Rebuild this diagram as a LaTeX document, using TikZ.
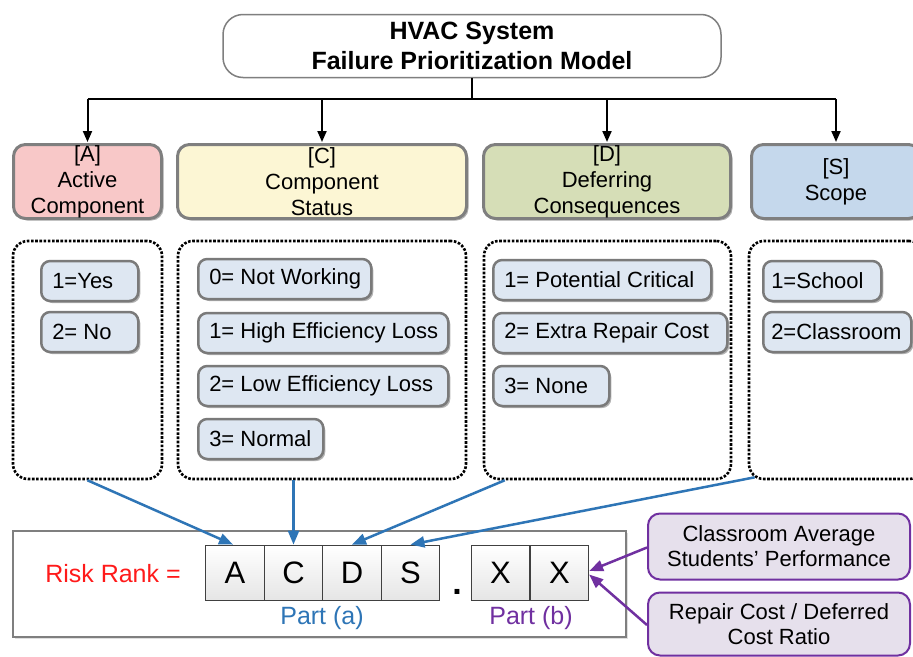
\documentclass[tikz,border=0pt]{standalone}
\usepackage{fontspec}
\setmainfont{Liberation Sans}
\usetikzlibrary{arrows.meta,shadows,calc}
\definecolor{bordgray}{HTML}{7F7F7F}
\definecolor{itemgray}{HTML}{7A7A7A}
\definecolor{itemfill}{HTML}{DEE7F2}
\definecolor{fillA}{HTML}{F8C8C8}
\definecolor{fillC}{HTML}{FCF6D4}
\definecolor{fillD}{HTML}{D6DEB7}
\definecolor{fillS}{HTML}{C5D8EC}
\definecolor{ablue}{HTML}{2E75B6}
\definecolor{apurple}{HTML}{7030A0}
\definecolor{pfill}{HTML}{E6E0EC}
\definecolor{rred}{HTML}{FF1A1A}
\newcommand\itemtext[2]{\makebox[#1][l]{#2}}
\begin{document}
\begin{tikzpicture}[x=1pt,y=-1pt,
  softshadow/.style={drop shadow={shadow xshift=2pt,shadow yshift=-2pt,opacity=0.3,fill=black}},
  titlebox/.style={draw=bordgray,line width=1.5pt,fill=white,rounded corners=20pt,
    minimum width=498pt,minimum height=63pt,align=center,inner sep=0pt,
    font=\bfseries\fontsize{25}{30}\selectfont},
  catbox/.style={draw=bordgray,line width=3pt,rounded corners=12pt,align=center,
    minimum height=74pt,inner sep=0pt,font=\fontsize{22}{26}\selectfont,softshadow},
  optbox/.style={draw=black,line width=2.6pt,dash pattern=on 2.6pt off 1.6pt,
    rounded corners=15pt,minimum height=238pt,inner sep=0pt},
  itembox/.style={draw=itemgray,line width=2.5pt,fill=itemfill,rounded corners=9pt,
    anchor=west,minimum height=40pt,inner xsep=11pt,inner ysep=0pt,
    font=\fontsize{22}{25}\selectfont,softshadow},
  cell/.style={draw=black!75,line width=0.8pt,top color=white,bottom color=black!10,
    minimum width=58.5pt,minimum height=55pt,inner sep=0pt,
    font=\fontsize{31}{31}\selectfont},
  pbox/.style={draw=apurple,line width=2pt,fill=pfill,rounded corners=12pt,
    minimum width=262pt,align=center,inner sep=0pt,font=\fontsize{22}{25}\selectfont},
  tree/.style={line width=2pt,draw=black},
  treearrow/.style={tree,-{Triangle[length=11pt,width=9pt]}},
  bluearrow/.style={line width=2.5pt,draw=ablue,-{Triangle[length=14pt,width=11pt]}},
  purplearrow/.style={line width=2.5pt,draw=apurple,-{Triangle[length=14pt,width=11pt]}}
]
\useasboundingbox (0,0) rectangle (913,656);
\clip (0,0) rectangle (913,656);
\fill[white] (0,0) rectangle (913,656);

% title
\node[titlebox] (T) at (472,46) {HVAC System\\Failure Prioritization Model};

% categories
\node[catbox,fill=fillA,minimum width=148pt] (cA) at (87.5,181.5) {[A]\\Active\\Component};
\node[catbox,fill=fillC,minimum width=289pt] (cC) at (322,181.5) {[C]\\Component\\Status};
\node[catbox,fill=fillD,minimum width=247pt] (cD) at (607,181.5) {[D]\\Deferring\\Consequences};
\node[catbox,fill=fillS,minimum width=169pt] (cS) at (836,181.5) {[S]\\Scope};

% tree connectors
\coordinate (bus) at (473,99);
\draw[tree] (T.south) -- (T.south |- bus);
\draw[tree] (cA.north |- bus) -- (cS.north |- bus);
\foreach \c in {cA,cC,cD,cS}{
  \draw[treearrow] (\c.north |- bus) -- ([yshift=1pt]\c.north);
}

% option groups
\node[optbox,minimum width=149pt] (dA) at (87.5,360) {};
\node[optbox,minimum width=288pt] (dC) at (322,360) {};
\node[optbox,minimum width=247pt] (dD) at (607.5,360) {};
\node[optbox,minimum width=175pt] (dS) at (836.5,360) {};

% items A
\node[itembox] (a1) at (40,281) {\itemtext{75pt}{1=Yes}};
\node[itembox] (a2) at (40,332) {\itemtext{75pt}{2= No}};
% items C
\node[itembox] (c0) at (197,279) {\itemtext{151pt}{0= Not Working}};
\node[itembox] (c1) at (197,333) {\itemtext{228pt}{1= High Efficiency Loss}};
\node[itembox] (c2) at (197,386) {\itemtext{228pt}{2= Low Efficiency Loss}};
\node[itembox] (c3) at (197,439) {\itemtext{103pt}{3= Normal}};
% items D
\node[itembox] (d1) at (492,280) {\itemtext{196pt}{1= Potential Critical}};
\node[itembox] (d2) at (492,333) {\itemtext{212pt}{2= Extra Repair Cost}};
\node[itembox] (d3) at (492,386) {\itemtext{94pt}{3= None}};
% items S
\node[itembox,inner xsep=8pt] (s1) at (762,281) {\itemtext{102pt}{1=School}};
\node[itembox,inner xsep=8pt] (s2) at (762,332) {\itemtext{132pt}{2=Classroom}};

% risk rank box
\node[draw=bordgray,line width=1.5pt,fill=white,minimum width=613pt,minimum height=106pt,
  inner sep=0pt,drop shadow={shadow xshift=1.5pt,shadow yshift=-1.5pt,opacity=0.25}] (rr) at (319.5,584) {};
\node[text=rred,font=\fontsize{25}{25}\selectfont] (rrl) at (113,574) {Risk Rank =};

\node[cell] (xA) at (235,572.5) {A};
\node[cell] (xC) at (293.5,572.5) {C};
\node[cell] (xD) at (352,572.5) {D};
\node[cell] (xS) at (410.5,572.5) {S};
\node[font=\bfseries\fontsize{34}{34}\selectfont,anchor=base] (dot) at (457,594) {.};
\node[cell] (x1) at (500.5,572.5) {X};
\node[cell] (x2) at (559.5,572.5) {X};

\node[text=ablue,font=\fontsize{25}{25}\selectfont] (pa) at (322,618) {Part (a)};
\node[text=apurple,font=\fontsize{25}{25}\selectfont] (pb) at (531,618) {Part (b)};

% purple boxes
\node[pbox,minimum height=66pt] (p1) at (779,546.5) {Classroom Average\\Students’ Performance};
\node[pbox,minimum height=63pt] (p2) at (779,624) {Repair Cost / Deferred\\Cost Ratio};

% blue arrows
\draw[bluearrow] (dA.south) -- ([xshift=-2pt]xA.north);
\draw[bluearrow] (dC.south -| xC.north) -- (xC.north);
\draw[bluearrow] ($(dD.south west)+(22,0)$) -- (xD.north);
\draw[bluearrow] ($(dS.south west)+(7,-3)$) -- (xS.north);

% purple arrows
\draw[purplearrow] ([yshift=-1pt]p1.west) -- ([yshift=1.5pt]x2.east);
\draw[purplearrow] ([yshift=-1pt]p2.west) -- ([yshift=-2pt]x2.east);
\end{tikzpicture}
\end{document}
